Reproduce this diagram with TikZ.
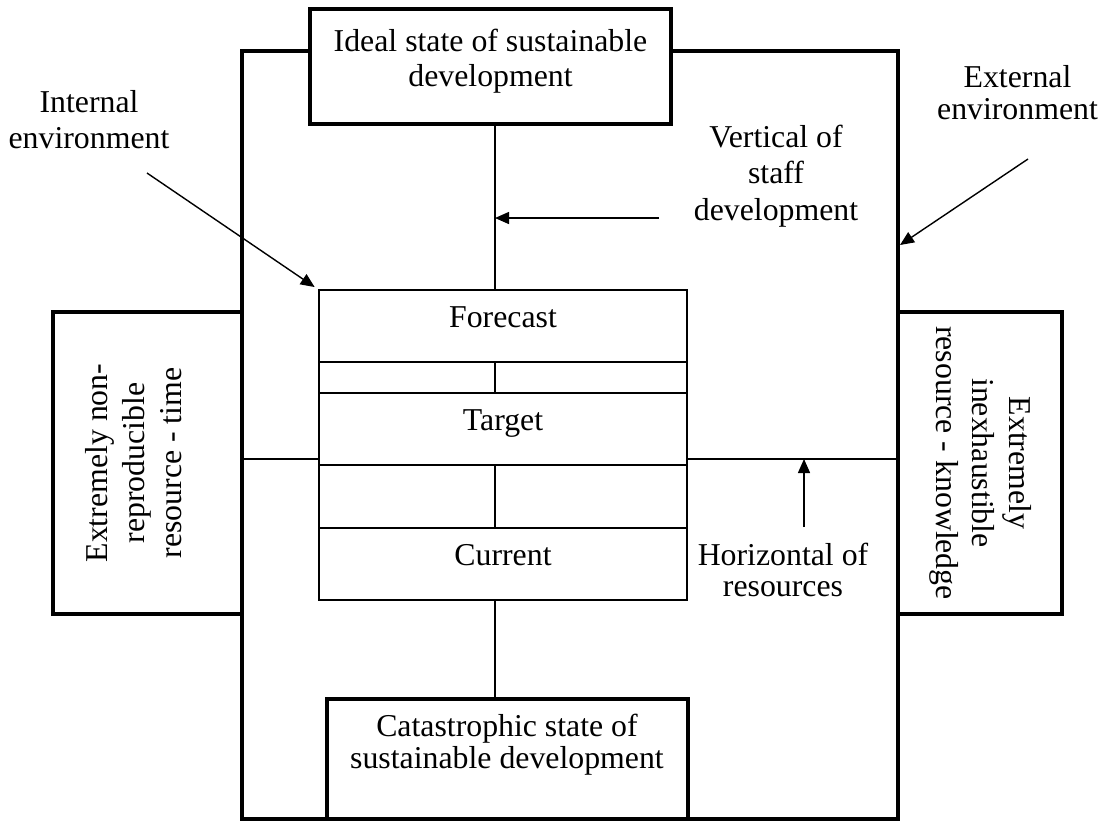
\documentclass[tikz,border=0pt]{standalone}
\usepackage{fontspec}
\setmainfont{Liberation Serif}
\usetikzlibrary{positioning,arrows.meta}

\tikzset{
  outerline/.style={line width=1.8pt},
  bigbox/.style={draw, line width=1.8pt, fill=white, inner sep=0pt, outer sep=0pt},
  stage/.style={draw, line width=1pt, outer sep=0pt, minimum width=7.36cm, text height=0.44cm,
    text depth=0.4cm, inner ysep=0.3cm, font=\fontsize{18.1}{20.4}\selectfont},
  lbl/.style={align=center, inner sep=0pt, font=\fontsize{18.1}{20.4}\selectfont},
  lbltight/.style={lbl, font=\fontsize{18.1}{18.1}\selectfont},
  conn/.style={line width=0.75pt},
  arr/.style={->, line width=0.8pt},
  >={Triangle[length=0.28cm,width=0.24cm]}
}

\begin{document}
\begin{tikzpicture}[x=0.2mm,y=-0.2mm]
  \useasboundingbox (0,0) rectangle (1114,823);
  \draw [outerline] (242,51) rectangle (898,819);

  % boxes round the frame
  \node (ideal) [bigbox, minimum width=7.22cm, minimum height=2.3cm] at (490.5,66.5) {};
  \node (catas) [bigbox, minimum width=7.22cm, minimum height=2.4cm] at (507.5,759) {};
  \node (timebx) [bigbox, minimum width=3.78cm, minimum height=6.04cm] at (147.5,463) {};
  \node (knowbx) [bigbox, minimum width=3.28cm, minimum height=6.04cm] at (980,463) {};

  \node (idealtxt) [lbl, font=\fontsize{18.1}{19.8}\selectfont] at (490.5,61) {Ideal state of sustainable\\development};
  \node (catastxt) [lbltight] at (507,745) {Catastrophic state of\\sustainable development};
  \node (timetxt) [lbl, rotate=90, font=\fontsize{18.1}{21}\selectfont] at (134,463) {Extremely non-\\reproducible\\resource - time};
  \node (knowtxt) [lbl, rotate=-90, font=\fontsize{18.1}{20.7}\selectfont] at (980.5,463) {Extremely\\inexhaustible\\resource - knowledge};

  % stages
  \node (fcst) [stage] at (503,326) {Forecast};
  \node (trgt) [stage, below=0.62cm of fcst] {Target};
  \node (curr) [stage, below=1.26cm of trgt] {Current};

  \draw [line width=1pt] (fcst.south west) -- (trgt.north west);
  \draw [line width=1pt] (fcst.south east) -- (trgt.north east);
  \draw [line width=1pt] (trgt.south west) -- (curr.north west);
  \draw [line width=1pt] (trgt.south east) -- (curr.north east);

  % vertical and horizontal axes
  \coordinate (vx) at (495,0);
  \coordinate (hy) at (0,459);
  \draw [conn] (ideal.south -| vx) -- (fcst.north -| vx);
  \draw [conn] (fcst.south -| vx) -- (trgt.north -| vx);
  \draw [conn] (trgt.south -| vx) -- (curr.north -| vx);
  \draw [conn] (curr.south -| vx) -- (catas.north -| vx);
  \draw [conn] (timebx.east |- hy) -- (trgt.west |- hy);
  \draw [conn] (trgt.east |- hy) -- (knowbx.west |- hy);

  % labels with arrows
  \node (intl) [lbl] at (89,120) {Internal\\environment};
  \node (extl) [lbltight] at (1017.5,93) {External\\environment};
  \node (vert) [lbl, font=\fontsize{18.1}{20.7}\selectfont] at (776,176) {Vertical of\\staff\\development};
  \node (horz) [lbltight] at (783,570) {Horizontal of\\resources};

  \coordinate (intla) at (147,173);
  \coordinate (extla) at (1028,159);
  \coordinate (extlb) at (900,245);
  \coordinate (verta) at (659,218);
  \coordinate (horza) at (804,527);

  \draw [arr, shorten >=3pt] (intla) -- (fcst.north west);
  \draw [arr] (extla) -- (extlb);
  \draw [arr] (verta) -- (verta -| vx);
  \draw [arr] (horza) -- (horza |- hy);
\end{tikzpicture}
\end{document}
